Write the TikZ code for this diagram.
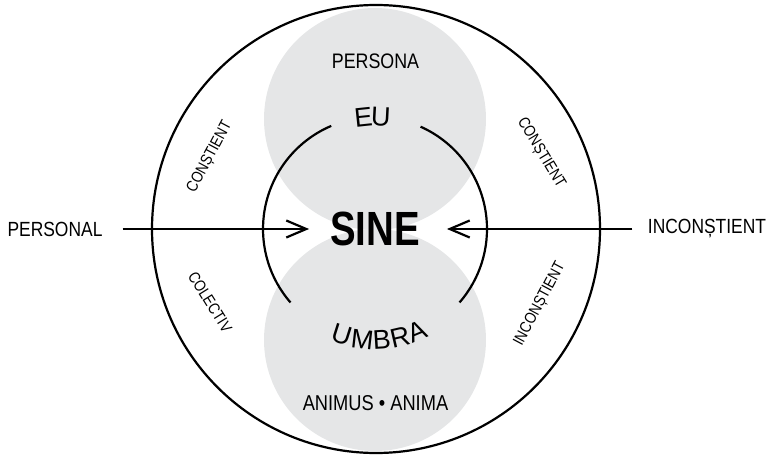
\documentclass[tikz,border=0pt]{standalone}
\usepackage{fontspec}
\setmainfont{Liberation Sans}
\newfontfamily\condfont[FakeStretch=0.85]{Liberation Sans}
\newfontfamily\sinefont[FakeStretch=0.8]{Liberation Sans Bold}
\usetikzlibrary{arrows.meta,calc}
\definecolor{ringgray}{RGB}{229,230,231}

\begin{document}
\begin{tikzpicture}[x=1pt, y=1pt, line width=2.2pt,
   ringtext/.style={inner sep=0pt, font=\condfont\fontsize{20.5}{20.5}\selectfont},
   sidetext/.style={inner sep=0pt, font=\condfont\fontsize{16}{16}\selectfont},
   arcletter/.style={inner sep=0pt, font=\fontsize{27}{27}\selectfont},
   lobe/.style={circle, fill=ringgray, minimum size=222pt, inner sep=0pt},
   arrow/.style={-{Straight Barb[length=20pt,width=17pt]}}]
   \useasboundingbox (0,0) rectangle (772,459);
   \coordinate (c) at (375,230);

   % grey lobes and rings
   \node (personalobe) at (375,340) [lobe] {};
   \node (umbralobe) at (375,119) [lobe] {};
   \node (self) at (376,230) [circle, draw, minimum size=448pt] {};
   \draw (c) ++(113:112) arc (113:221:112);
   \draw (c) ++(66:112) arc (66:-41:112);

   % texts
   \node (sine) at (375,230) [inner sep=0pt, font=\sinefont\fontsize{48}{48}\selectfont] {SINE};
   \node (persona) at (375.5,398) [ringtext, font=\condfont\fontsize{21}{21}\selectfont] {PERSONA};
   \node (animus) at (375.5,56) [ringtext, font=\condfont\fontsize{21.5}{21.5}\selectfont] {ANIMUS \textbullet\ ANIMA};
   \node (personal) at (55,230) [ringtext] {PERSONAL};
   \node (inconstient) at (707,230) [ringtext] {INCONȘTIENT};
   \foreach \ch/\ang in {E/96, U/87}
      \node (eu\ch) at ($(c)+(\ang:112)$) [arcletter, rotate=\ang-90] {\ch};
   \foreach \ch/\ang in {U/252.5, M/263.5, B/273.5, R/283, A/292.5}
      \node (umbra\ch) at ($(c)+(\ang:111)$) [arcletter, rotate=\ang+90] {\ch};

   \node (conl) at (210,302) [sidetext, rotate=62] {CONȘTIENT};
   \node (conr) at (541,306) [sidetext, rotate=-59] {CONȘTIENT};
   \node (colectiv) at (210,157) [sidetext, rotate=-58] {COLECTIV};
   \node (incon) at (540,155) [sidetext, rotate=62] {INCONȘTIENT};

   % arrows
   \draw[arrow, shorten <=19pt, shorten >=20pt] (personal) -- (sine);
   \draw[arrow, shorten <=14.5pt, shorten >=26pt] (inconstient) -- (sine);
\end{tikzpicture}
\end{document}
